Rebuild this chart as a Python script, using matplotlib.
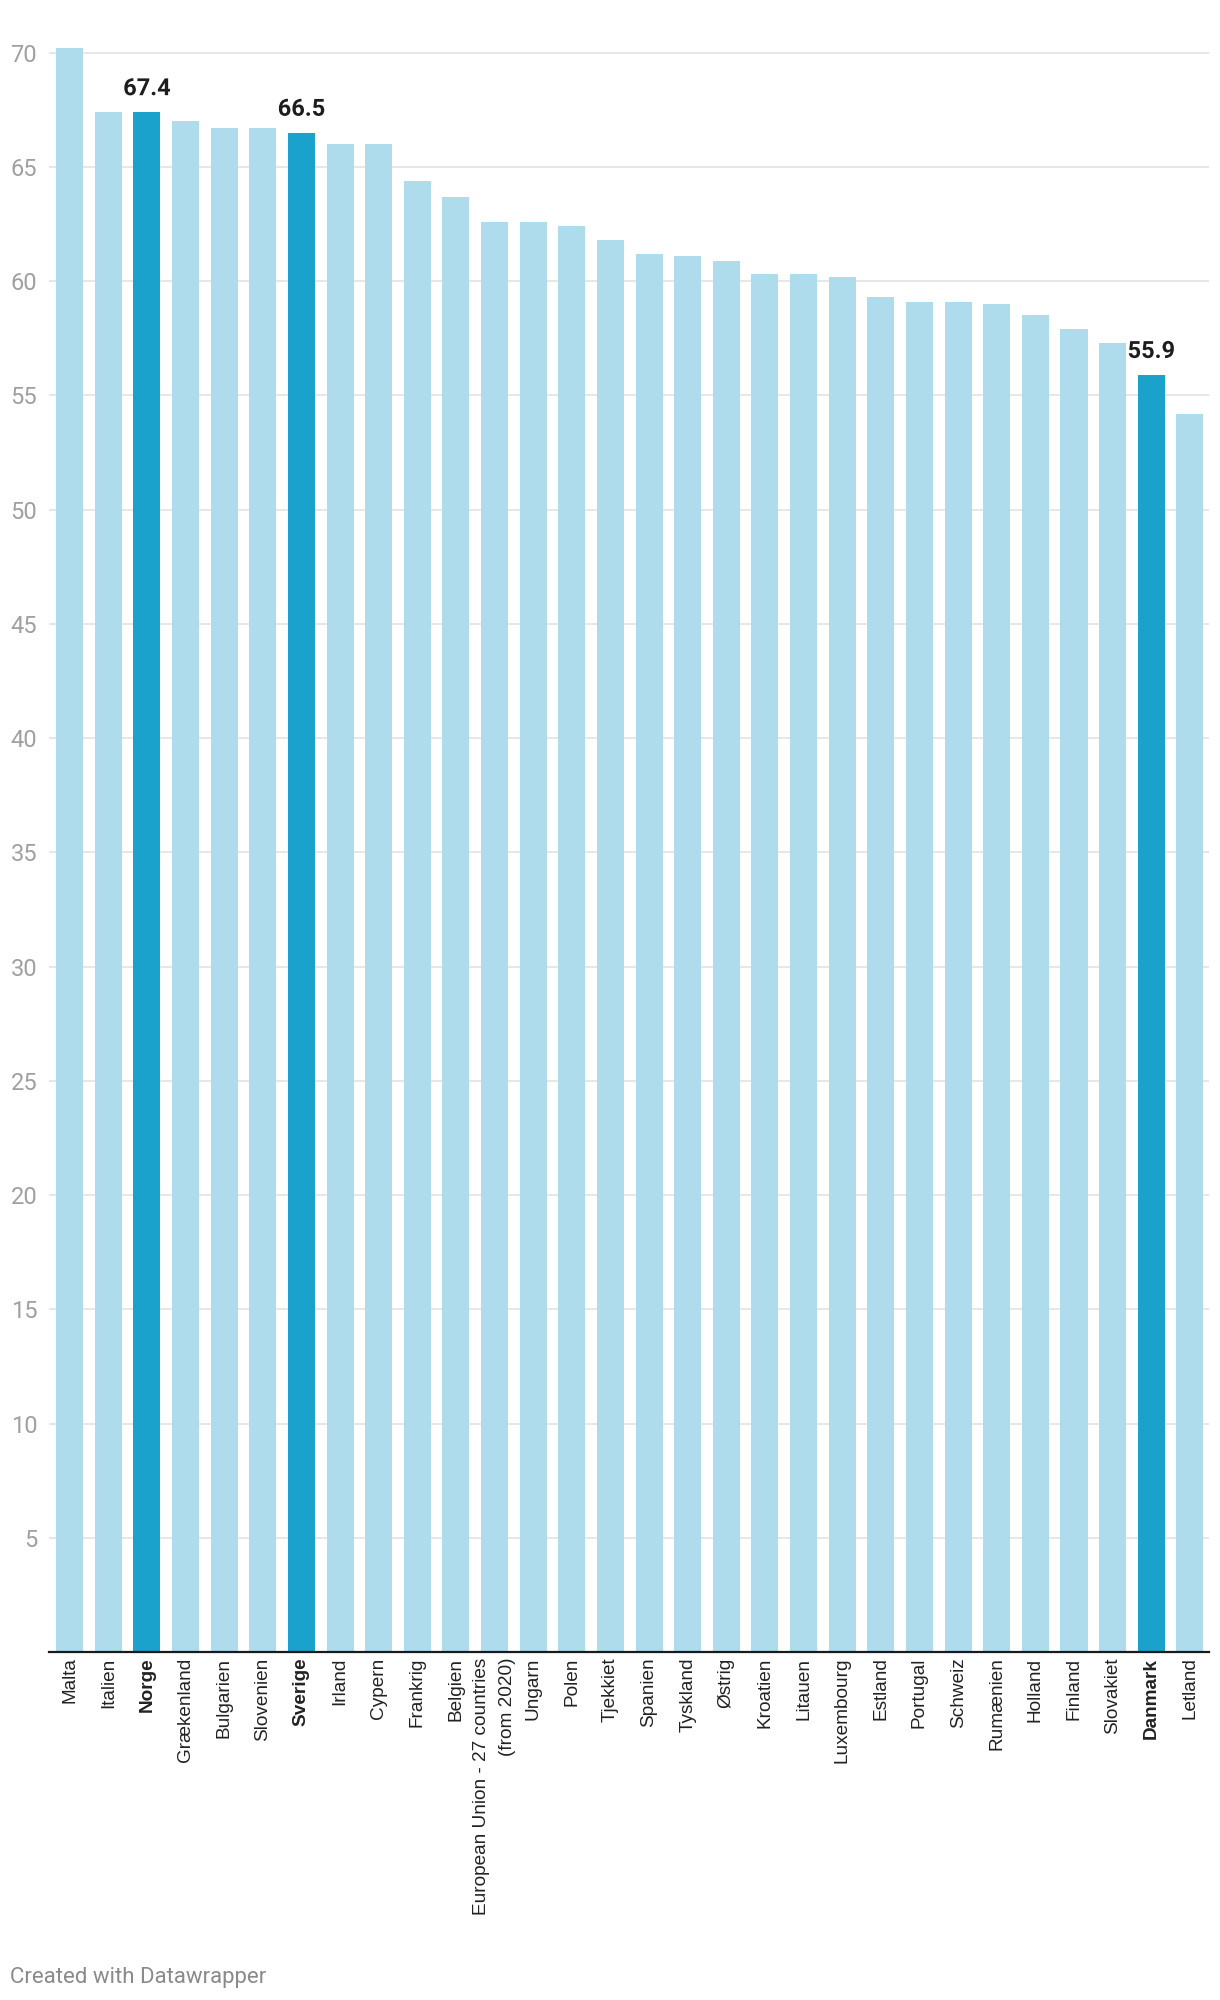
import matplotlib
matplotlib.use("Agg")
import matplotlib.pyplot as plt
import matplotlib.patheffects as pe
import numpy as np

categories = ["Malta", "Italien", "Norge", "Grækenland", "Bulgarien", "Slovenien",
              "Sverige", "Irland", "Cypern", "Frankrig", "Belgien",
              "European Union - 27 countries\n(from 2020)", "Ungarn", "Polen",
              "Tjekkiet", "Spanien", "Tyskland", "Østrig", "Kroatien", "Litauen",
              "Luxembourg", "Estland", "Portugal", "Schweiz", "Rumænien",
              "Holland", "Finland", "Slovakiet", "Danmark", "Letland"]
values = [70.2, 67.4, 67.4, 67.0, 66.7, 66.7, 66.5, 66.0, 66.0, 64.4, 63.7,
          62.6, 62.6, 62.4, 61.8, 61.2, 61.1, 60.9, 60.3, 60.3, 60.2, 59.3,
          59.1, 59.1, 59.0, 58.5, 57.9, 57.3, 55.9, 54.2]
highlighted = ["Norge", "Sverige", "Danmark"]
yticks = [5, 10, 15, 20, 25, 30, 35, 40, 45, 50, 55, 60, 65, 70]

LIGHT = "#aedcec"
DARK = "#1aa1cc"

W, H = 1220, 2000
fig = plt.figure(figsize=(W / 100, H / 100), dpi=100)
ax = fig.add_axes([49 / W, (H - 1652) / H, (1209 - 49) / W, (1652 - 41.3) / H])

x = np.arange(len(categories))
colors = [DARK if c in highlighted else LIGHT for c in categories]
ax.bar(x, values, width=0.70, color=colors, zorder=3)

ax.set_xlim(-0.535, len(categories) - 1 + 0.495)
ax.set_ylim(0, 70.5)

ax.set_yticks(yticks)
ax.set_yticklabels([str(t) for t in yticks], fontfamily="Roboto", fontsize=17,
                   color="#a0a0a0")
ax.tick_params(axis="y", length=0, pad=8.5)
ax.yaxis.grid(True, color="#e3e3e3", linewidth=1.2, zorder=0)
ax.set_axisbelow(True)

ax.set_xticks(x)
ax.set_xticklabels(categories, rotation=90, fontfamily="Liberation Sans",
                   fontsize=13.7, color="#222222", va="top", ha="center",
                   multialignment="right", linespacing=1.65)
for lbl, c in zip(ax.get_xticklabels(), categories):
    if c in highlighted:
        lbl.set_fontweight("bold")
ax.tick_params(axis="x", length=0, pad=4)

for s in ["top", "right", "left"]:
    ax.spines[s].set_visible(False)
ax.spines["bottom"].set_color("#1a1a1a")
ax.spines["bottom"].set_linewidth(1.6)
ax.spines["bottom"].set_zorder(5)

for xi, c, v in zip(x, categories, values):
    if c in highlighted:
        t = ax.annotate(f"{v:.1f}", xy=(xi, v), xytext=(0, 12.2),
                        textcoords="offset points", ha="center", va="baseline",
                        fontfamily="Roboto", fontweight="bold", fontsize=17,
                        color="#1d1d1d", zorder=6, annotation_clip=False)
        t.set_path_effects([pe.withStroke(linewidth=4, foreground="white")])

fig.text(10 / W, (H - 1983) / H, "Created with Datawrapper", fontfamily="Roboto",
         fontsize=16, color="#8a8a8a", va="baseline", ha="left")

fig.savefig("out.png", dpi=100, facecolor="white")
